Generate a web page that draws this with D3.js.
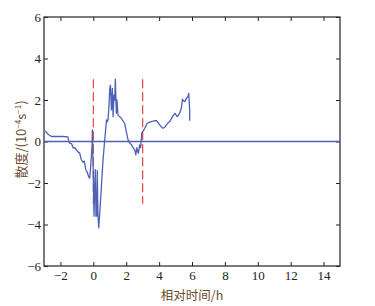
<!DOCTYPE html>
<html>
<head>
<meta charset="utf-8">
<script src="https://cdn.jsdelivr.net/npm/d3@7/dist/d3.min.js"></script>
<style>
  body { margin: 0; background: #fff; }
</style>
</head>
<body>
<script>
  const width = 375, height = 306
  const margin = {left: 44, top: 17, right: 35, bottom: 40}

  const colors = {line: '#4d61b8', dash: '#e8423f', label: '#6b4a2e', axis: '#222'}

  // divergence series (relative time in h, value in 10^-4 s^-1)
  const time = [-2.92, -2.75, -2.55, -2.35, -2.15, -1.85, -1.55, -1.5, -1.44, -1.33, -1.23, -1.13, -0.93, -0.83,
    -0.73, -0.63, -0.55, -0.46, -0.36, -0.28, -0.22, -0.18, -0.12, -0.08, -0.06, -0.02, 0.04, 0.08, 0.12,
    0.16, 0.2, 0.24, 0.28, 0.33, 0.39, 0.49, 0.59, 0.69, 0.8, 0.86, 0.9, 0.96, 1.0, 1.04, 1.1, 1.16, 1.2,
    1.26, 1.3, 1.34, 1.4, 1.44, 1.5, 1.6, 1.7, 1.8, 1.9, 2.0, 2.11, 2.22, 2.32, 2.42, 2.52, 2.58, 2.65, 2.7,
    2.74, 2.82, 2.88, 2.94, 3.03, 3.13, 3.27, 3.4, 3.53, 3.7, 3.84, 3.95, 4.04, 4.14, 4.24, 4.35, 4.45,
    4.55, 4.65, 4.81, 4.96, 5.1, 5.25, 5.35, 5.42, 5.5, 5.56, 5.66, 5.75, 5.8, 5.86, 5.86]
  const divergence = [0.51, 0.35, 0.24, 0.24, 0.24, 0.24, 0.22, 0.05, -0.08, -0.1, -0.3, -0.3, -0.5, -0.56,
    -0.88, -1.0, -0.95, -1.36, -1.5, -1.71, -1.76, -1.4, -0.72, -0.24, 0.56, -0.88, -3.6, -2.2, -1.36,
    -3.6, -3.6, -1.4, -3.5, -4.16, -3.44, -2.2, -0.88, 0.05, 1.04, 0.95, 1.1, 1.84, 2.56, 2.72, 1.52, 2.56,
    1.2, 2.24, 2.0, 3.0, 1.36, 2.0, 1.28, 1.2, 1.12, 1.0, 0.88, 0.5, 0.08, -0.08, -0.16, -0.3, -0.4, -0.64,
    -0.3, -0.5, -0.56, -0.16, -0.3, 0.4, 0.5, 0.64, 0.88, 0.92, 0.96, 1.0, 1.01, 0.9, 0.8, 0.7, 0.64, 0.7,
    0.8, 0.9, 0.96, 1.2, 1.36, 1.2, 1.36, 1.6, 2.04, 1.95, 1.92, 2.08, 2.15, 2.32, 1.52, 1.0]

  const markTimes = [0, 3]     // red dashed markers
  const markRange = [-3, 3]
  const xTicks = [-2, 0, 2, 4, 6, 8, 10, 12, 14]
  const yTicks = [-6, -4, -2, 0, 2, 4, 6]

  const innerW = width - margin.left - margin.right,
        innerH = height - margin.top - margin.bottom

  const x = d3.scaleLinear().domain([-3, 15]).range([0, innerW])
  const y = d3.scaleLinear().domain([-6, 6]).range([innerH, 0])

  const svg = d3.select('body').append('svg')
      .attr('width', width)
      .attr('height', height)

  const g = svg.append('g')
      .attr('transform', `translate(${margin.left}, ${margin.top})`)

  const fmt = d => d < 0 ? '\u2212' + Math.abs(d) : String(d)

  // axes with inward ticks, mirrored on top and right
  const axisStyle = sel => {
    sel.attr('font-family', '"Liberation Serif", serif').attr('font-size', 13)
    sel.select('.domain').remove()
    sel.selectAll('line').attr('stroke', colors.axis)
    sel.selectAll('text').attr('fill', '#222')
  }

  g.append('g')
    .attr('transform', `translate(0, ${innerH})`)
    .call(d3.axisBottom(x).tickValues(xTicks).tickSize(-4).tickPadding(5).tickFormat(fmt))
    .call(axisStyle)
  g.append('g')
    .call(d3.axisTop(x).tickValues(xTicks).tickSize(-4).tickFormat(''))
    .call(axisStyle)
  g.append('g')
    .call(d3.axisLeft(y).tickValues(yTicks).tickSize(-4).tickPadding(3).tickFormat(fmt))
    .call(axisStyle)
  g.append('g')
    .attr('transform', `translate(${innerW}, 0)`)
    .call(d3.axisRight(y).tickValues(yTicks).tickSize(-4).tickFormat(''))
    .call(axisStyle)

  g.append('rect')
    .attr('width', innerW)
    .attr('height', innerH)
    .attr('fill', 'none')
    .attr('stroke', colors.axis)
    .attr('stroke-width', 1.2)

  // zero line
  g.append('line')
    .attr('x1', x(-3)).attr('x2', x(15))
    .attr('y1', y(0)).attr('y2', y(0))
    .attr('stroke', colors.line)
    .attr('stroke-width', 1.5)

  g.selectAll('.mark')
    .data(markTimes)
    .enter().append('line')
      .attr('class', 'mark')
      .attr('x1', d => x(d)).attr('x2', d => x(d))
      .attr('y1', y(markRange[1])).attr('y2', y(markRange[0]))
      .attr('stroke', colors.dash)
      .attr('stroke-width', 1.2)
      .attr('stroke-dasharray', '9,4')

  const line = d3.line()
    .x((d, i) => x(time[i]))
    .y(d => y(d))

  g.append('path')
    .datum(divergence)
    .attr('d', line)
    .attr('fill', 'none')
    .attr('stroke', colors.line)
    .attr('stroke-width', 1.3)
    .attr('stroke-linejoin', 'round')

  // axis titles
  g.append('text')
    .attr('x', innerW / 2)
    .attr('y', innerH + 34)
    .style('text-anchor', 'middle')
    .style('font-family', '"Noto Sans CJK SC", "Liberation Serif", serif')
    .style('font-size', '12.5px')
    .attr('fill', colors.label)
    .text('相对时间/h')

  const yTitle = g.append('text')
    .attr('transform', `translate(${-margin.left + 26}, ${innerH / 2 - 2}) rotate(-90)`)
    .style('text-anchor', 'middle')
    .style('font-family', '"Noto Sans CJK SC", "Liberation Serif", serif')
    .style('font-size', '13px')
    .attr('fill', colors.label)
  yTitle.append('tspan').text('散度/(10')
  yTitle.append('tspan').attr('dy', -5).style('font-size', '8px').text('\u22124')
  yTitle.append('tspan').attr('dy', 5).text('s')
  yTitle.append('tspan').attr('dy', -5).style('font-size', '8px').text('\u22121')
  yTitle.append('tspan').attr('dy', 5).text(')')
</script>
</body>
</html>
